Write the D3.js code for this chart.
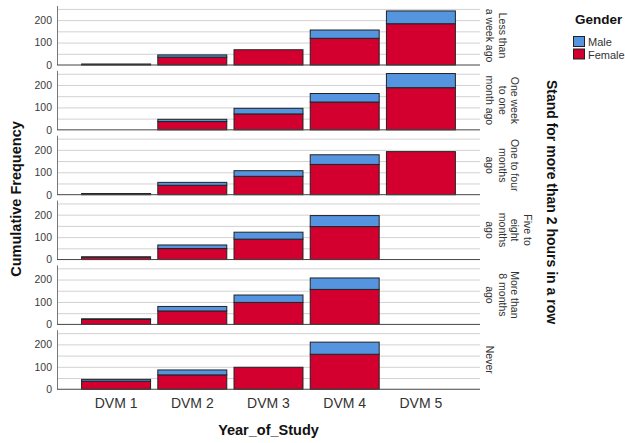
<!DOCTYPE html>
<html>
<head>
<meta charset="utf-8">
<script src="https://cdn.jsdelivr.net/npm/d3@7"></script>
<style>
  html, body { margin: 0; padding: 0; background: #fff; }
  svg { display: block; font-family: "Liberation Sans", Arial, sans-serif; }
</style>
</head>
<body>
<svg id="chart" width="625" height="443"></svg>
<script>
// ---- data ----
const categories = ["DVM 1", "DVM 2", "DVM 3", "DVM 4", "DVM 5"];
const panelLabels = [
  ["Less than", "a week ago"],
  ["One week", "to one", "month ago"],
  ["One to four", "months", "ago"],
  ["Five to", "eight", "months", "ago"],
  ["More than", "8 months", "ago"],
  ["Never"]
];
const femaleValues = [
  [3, 35, 68, 119, 184],
  [0, 37, 71, 124, 188],
  [4, 42, 82, 135, 192],
  [11, 49, 91, 147, 0],
  [22, 60, 98, 156, 0],
  [36, 64, 98, 156, 0]
];
const maleValues = [
  [1, 10, 0, 37, 57],
  [0, 10, 25, 38, 63],
  [1, 13, 25, 43, 0],
  [1, 16, 31, 49, 0],
  [3, 20, 33, 51, 0],
  [8, 22, 0, 54, 0]
];
const yTicks = [0, 100, 200];
const yGridTicks = [50, 100, 150, 200, 250];
const seriesNames = ["Male", "Female"];
const colors = { Male: "#5595e0", Female: "#d3002f" };

// ---- layout ----
const svg = d3.select("#chart");
const left = 57, right = 480;
const firstZero = 65, panelStep = 64.85, panelH = 59;
const yMax = 263;

const x = d3.scaleBand().domain(categories).range([left, right])
  .paddingInner(0.095).paddingOuter(0.323);

panelLabels.forEach((lab, i) => {
  const y0 = firstZero + i * panelStep;
  const y = d3.scaleLinear().domain([0, yMax]).range([y0, y0 - panelH]);
  const g = svg.append("g");

  // gridlines
  g.append("g")
    .attr("transform", `translate(${left},0)`)
    .call(d3.axisLeft(y).tickValues(yGridTicks).tickSize(-(right - left)).tickFormat(""))
    .call(a => a.select(".domain").remove())
    .call(a => a.selectAll("line").attr("stroke", "#d2d2d2").attr("stroke-width", 1));

  // bars
  const rows = categories.map((c, k) => ({ c, f: femaleValues[i][k], m: maleValues[i][k] }));
  rows.forEach(r => {
    if (r.f > 0) {
      g.append("rect")
        .attr("x", x(r.c)).attr("width", x.bandwidth())
        .attr("y", y(r.f)).attr("height", y(0) - y(r.f))
        .attr("fill", colors.Female).attr("stroke", "#222").attr("stroke-width", 1);
    }
    if (r.m > 0) {
      g.append("rect")
        .attr("x", x(r.c)).attr("width", x.bandwidth())
        .attr("y", y(r.f + r.m)).attr("height", y(r.f) - y(r.f + r.m))
        .attr("fill", colors.Male).attr("stroke", "#222").attr("stroke-width", 1);
    }
  });

  // y axis
  g.append("g")
    .attr("transform", `translate(${left},0)`)
    .call(d3.axisLeft(y).tickValues(yTicks).tickSize(0).tickPadding(5))
    .call(a => a.select(".domain").attr("stroke", "#777").attr("d", `M0.5,${y0 - panelH}V${y0}`))
    .call(a => a.selectAll("text").attr("font-size", "10.5px").attr("fill", "#3a3a3a")
      .attr("font-family", "Liberation Sans, Arial, sans-serif"));

  // baseline
  g.append("line")
    .attr("x1", left).attr("x2", right).attr("y1", y0).attr("y2", y0)
    .attr("stroke", "#444").attr("stroke-width", 1);

  // strip label
  const n = lab.length;
  const yc = y0 - panelH / 2;
  lab.forEach((t, j) => {
    const xc = 490 + (n - 1 - j) * 12.5;
    svg.append("text")
      .attr("transform", `translate(${xc},${yc}) rotate(90)`)
      .attr("text-anchor", "middle").attr("dy", "0.35em")
      .attr("font-size", "10.5px").attr("fill", "#333")
      .text(t);
  });

  // x axis on last panel
  if (i === panelLabels.length - 1) {
    svg.append("g")
      .attr("transform", `translate(0,${y0})`)
      .call(d3.axisBottom(x).tickSize(0).tickPadding(9))
      .call(a => a.select(".domain").remove())
      .call(a => a.selectAll("text").attr("font-size", "14px").attr("fill", "#333")
        .attr("font-family", "Liberation Sans, Arial, sans-serif"));
  }
});

// titles
svg.append("text")
  .attr("transform", "translate(15.5,199) rotate(-90)")
  .attr("text-anchor", "middle").attr("dy", "0.35em")
  .attr("font-size", "14.5px").attr("font-weight", "bold").attr("fill", "#111")
  .text("Cumulative Frequency");

svg.append("text")
  .attr("x", (left + right) / 2).attr("y", 435)
  .attr("text-anchor", "middle")
  .attr("font-size", "14.5px").attr("font-weight", "bold").attr("fill", "#111")
  .text("Year_of_Study");

svg.append("text")
  .attr("transform", "translate(552,202) rotate(90)")
  .attr("text-anchor", "middle").attr("dy", "0.35em")
  .attr("font-size", "14px").attr("font-weight", "bold").attr("fill", "#111")
  .text("Stand for more than 2 hours in a row");

// legend
const leg = svg.append("g");
leg.append("text").attr("x", 575).attr("y", 24)
  .attr("font-size", "13.5px").attr("font-weight", "bold").attr("fill", "#111")
  .text("Gender");
seriesNames.forEach((s, k) => {
  const yy = 36.5 + k * 12.5;
  leg.append("rect").attr("x", 573.5).attr("y", yy).attr("width", 11).attr("height", 10)
    .attr("fill", colors[s]).attr("stroke", "#222").attr("stroke-width", 1);
  leg.append("text").attr("x", 588).attr("y", yy + 9.5)
    .attr("font-size", "11px").attr("fill", "#333").text(s);
});
</script>
</body>
</html>
